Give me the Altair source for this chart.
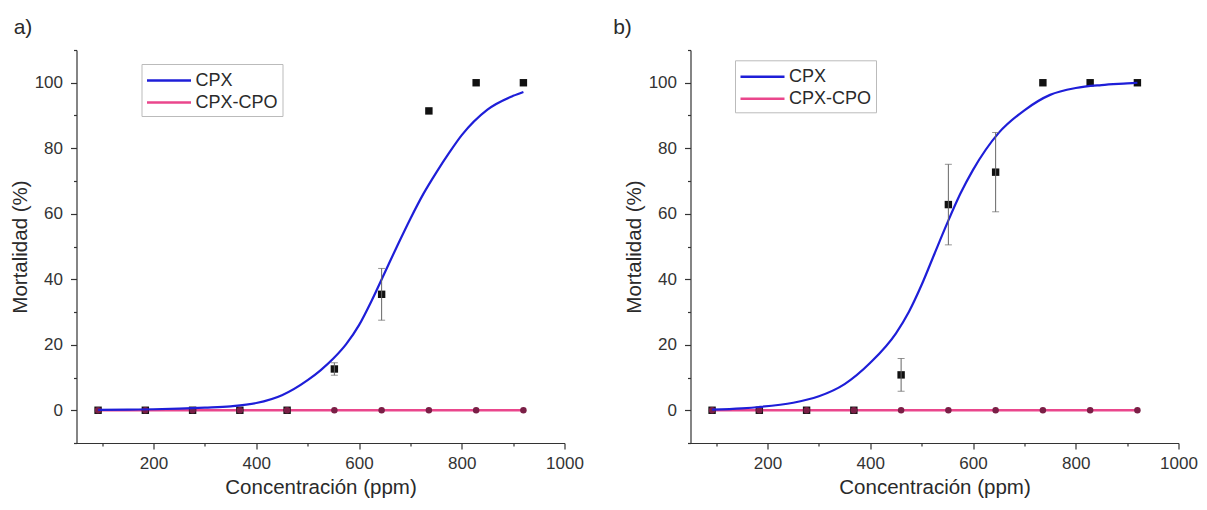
import altair as alt
import pandas as pd

FONT = "Liberation Sans"
BLUE = "#1E1ED8"
PINK = "#EA468C"
MAROON = "#7A1F46"
INK = "#2A2A2A"

# concentrations (ppm)
conc = [92, 184, 276, 368, 460, 552, 644, 736, 828, 920]

# panel a) measured mortality (%) and error
cpx_a = [0, 0, 0, 0, 0, 12.6, 35.4, 91.4, 100, 100]
err_a = [0, 0, 0, 0, 0, 1.9, 7.9, 0, 0, 0]
cpo_a = [0, 0, 0, 0, 0, 0, 0, 0, 0, 0]
# panel a) fitted CPX curve
fit_a_x = [92, 150, 200, 250, 300, 350, 400, 450, 500, 525, 550, 575, 600, 625, 650, 675, 700,
           725, 750, 775, 800, 850, 900, 920]
fit_a_y = [0.1, 0.2, 0.3, 0.5, 0.8, 1.2, 2.2, 4.6, 9.2, 12.2, 15.8, 20.2, 26.0, 33.6, 42.0, 50.4,
           58.5, 66.0, 72.5, 78.5, 84.0, 91.8, 96.0, 97.2]

# panel b) measured mortality (%) and error
cpx_b = [0, 0, 0, 0, 10.8, 62.8, 72.7, 100, 100, 100]
err_b = [0, 0, 0, 0, 5.0, 12.3, 12.1, 0, 0, 0]
cpo_b = [0, 0, 0, 0, 0, 0, 0, 0, 0, 0]
# panel b) fitted CPX curve
fit_b_x = [92, 150, 184, 250, 276, 300, 350, 400, 450, 475, 500, 525, 550, 575, 600, 650, 700,
           750, 800, 850, 900, 920]
fit_b_y = [0.2, 0.6, 1.0, 2.3, 3.2, 4.3, 8.0, 14.5, 23.5, 30.0, 38.3, 47.8, 57.2, 66.0, 73.4,
           84.7, 91.6, 96.3, 98.4, 99.3, 99.8, 100]

series = ["CPX", "CPX-CPO"]
x_major = [200, 400, 600, 800, 1000]
x_minor = [100, 300, 500, 700, 900]
y_major = [0, 20, 40, 60, 80, 100]
y_minor = [-10, 10, 30, 50, 70, 90, 110]

W, H = 488, 393


def panel(label, title_dx, cpx, err, cpo, fx, fy, lx, ly):
    pts = pd.DataFrame({"conc": conc, "cpx": cpx, "err": err, "cpo": cpo, "serie": series[1]})
    pts["lo"] = pts["cpx"] - pts["err"]
    pts["hi"] = pts["cpx"] + pts["err"]
    eb = pts[pts["err"] > 0]
    fit = pd.DataFrame({"conc": fx, "mort": fy, "serie": series[0]})

    xs = alt.Scale(domain=[50, 1000], nice=False, zero=False)
    ys = alt.Scale(domain=[-10, 110], nice=False, zero=False)
    xax = alt.Axis(title="Concentración (ppm)", values=x_major, format="d", tickSize=6,
                   labelPadding=6, labelFlush=False, labelFontSize=17, titleFontSize=20.5,
                   titleFontWeight="normal", titlePadding=6, grid=False)
    yax = alt.Axis(title="Mortalidad (%)", values=y_major, format="d", tickSize=6,
                   labelPadding=8, labelFontSize=17, titleFontSize=20.5,
                   titleFontWeight="normal", titlePadding=4, grid=False)

    def X(f):
        return alt.X(f, type="quantitative", scale=xs, axis=xax, title="Concentración (ppm)")

    def Y(f):
        return alt.Y(f, type="quantitative", scale=ys, axis=yax, title="Mortalidad (%)")

    color = alt.Color(
        "serie:N",
        scale=alt.Scale(domain=series, range=[BLUE, PINK]),
        legend=alt.Legend(orient="none", legendX=lx, legendY=ly, title=None,
                          symbolType="M-1,0L3,0", symbolSize=484, symbolStrokeWidth=2.5,
                          labelFontSize=18, labelFont=FONT, labelColor=INK,
                          strokeColor="#BBBBBB", fillColor="white", padding=4,
                          rowPadding=0, labelOffset=25),
    )

    cpo_line = alt.Chart(pts).mark_line(strokeWidth=2.5).encode(x=X("conc"), y=Y("cpo"), color=color)
    squares = alt.Chart(pts).mark_square(size=55, color="#111111", opacity=1).encode(x=X("conc"), y=Y("cpx"))
    circles = alt.Chart(pts).mark_circle(size=42, color=MAROON, opacity=1).encode(x=X("conc"), y=Y("cpo"))
    fit_line = alt.Chart(fit).mark_line(strokeWidth=2.2, interpolate="monotone").encode(
        x=X("conc"), y=Y("mort"), color=color)
    rules = alt.Chart(eb).mark_rule(color="#666666", strokeWidth=1).encode(x=X("conc"), y=Y("lo"), y2="hi")
    cap_lo = alt.Chart(eb).mark_tick(orient="horizontal", size=7, thickness=1, color="#666666").encode(
        x=X("conc"), y=Y("lo"))
    cap_hi = alt.Chart(eb).mark_tick(orient="horizontal", size=7, thickness=1, color="#666666").encode(
        x=X("conc"), y=Y("hi"))

    main = alt.layer(cpo_line, squares, circles, fit_line, rules, cap_lo, cap_hi)

    minor = alt.Chart(pts).mark_point(opacity=0).encode(
        x=alt.X("conc:Q", scale=xs,
                axis=alt.Axis(values=x_minor, labels=False, title=None, domain=False,
                              tickSize=3, orient="bottom", grid=False)),
        y=alt.Y("cpo:Q", scale=ys,
                axis=alt.Axis(values=y_minor, labels=False, title=None, domain=False,
                              tickSize=3, orient="left", grid=False)),
    )

    return alt.layer(main, minor).resolve_axis(x="independent", y="independent").properties(
        width=W, height=H,
        title=alt.TitleParams(label, anchor="start", frame="bounds", fontSize=21,
                              fontWeight="normal", font=FONT, color=INK, offset=11, dx=title_dx),
    )


pa = panel("a)", 3.5, cpx_a, err_a, cpo_a, fit_a_x, fit_a_y, 65, 14)
pb = panel("b)", -11, cpx_b, err_b, cpo_b, fit_b_x, fit_b_y, 44.5, 10.3)

chart = alt.hconcat(pa, pb, spacing=29).resolve_scale(color="independent").resolve_legend(
    color="independent"
).properties(
    padding={"left": 1.5, "top": 9, "right": 0, "bottom": 0},
    background="white",
).configure_view(stroke=None).configure_axis(
    domainColor="#333333", tickColor="#333333", labelColor="#333333", titleColor=INK,
    labelFont=FONT, titleFont=FONT, domainWidth=1.2, tickWidth=1.2,
)

chart.save("out.html", embed_options={"renderer": "svg", "actions": False})
